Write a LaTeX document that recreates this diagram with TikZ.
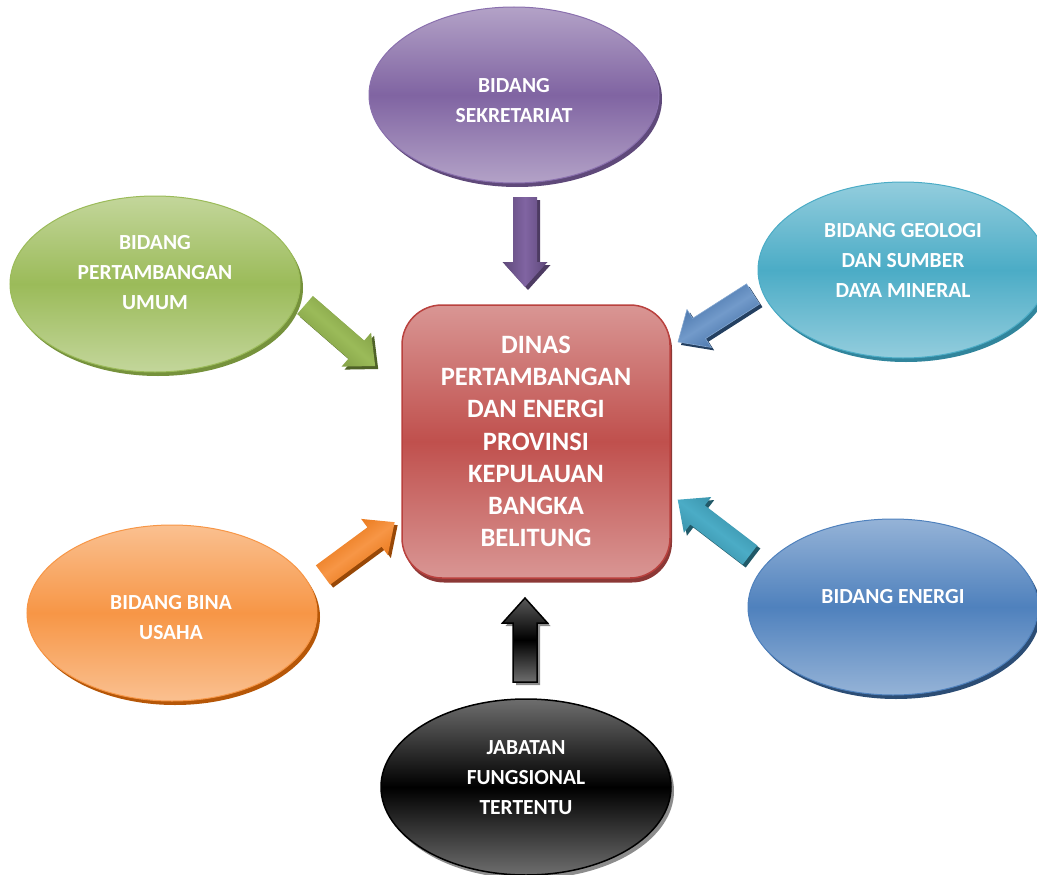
\documentclass[tikz,border=0pt]{standalone}
\usepackage{fontspec}
\setmainfont{Carlito}[BoldFont={Carlito Bold}]
\usetikzlibrary{shapes.geometric,calc}
\definecolor{purL}{HTML}{B3A2C7}\definecolor{purM}{HTML}{8064A2}\definecolor{purD}{HTML}{5F497A}\definecolor{purB}{HTML}{8A70AE}
\definecolor{grnL}{HTML}{C3D69B}\definecolor{grnM}{HTML}{9BBB59}\definecolor{grnD}{HTML}{76923C}
\definecolor{cyaL}{HTML}{93CDDD}\definecolor{cyaM}{HTML}{4BACC6}\definecolor{cyaD}{HTML}{31859C}
\definecolor{ornL}{HTML}{FAC090}\definecolor{ornM}{HTML}{F79646}\definecolor{ornD}{HTML}{B65708}\definecolor{ornA}{HTML}{E36C09}
\definecolor{bluL}{HTML}{95B3D7}\definecolor{bluM}{HTML}{4F81BD}\definecolor{bluD}{HTML}{2C4D75}\definecolor{bluA}{HTML}{3A679F}
\definecolor{redL}{HTML}{D99694}\definecolor{redM}{HTML}{C0504D}\definecolor{redD}{HTML}{8C3836}\definecolor{redB}{HTML}{B9413E}
\definecolor{blkL}{HTML}{6E6E6E}\definecolor{blkS}{HTML}{8C8C8C}
\definecolor{purS}{HTML}{4D3B62}\definecolor{grnS}{HTML}{4F6228}\definecolor{bluS}{HTML}{244061}\definecolor{cyaS}{HTML}{215968}\definecolor{ornS}{HTML}{984807}
\newcommand\barrow[5]{%
  \begin{scope}[shift={($(#1)+(3,3)$)}, rotate=#2]
    \fill[#4] (0,-12) -- ({#3-25},-12) -- ({#3-25},-22.5) -- (#3,0) -- ({#3-25},22.5) -- ({#3-25},12) -- (0,12) -- cycle;
  \end{scope}
  \begin{scope}[shift={(#1)}, rotate=#2]
    \path[#5] (0,-12) -- ({#3-25},-12) -- ({#3-25},-22.5) -- (#3,0) -- ({#3-25},22.5) -- ({#3-25},12) -- (0,12) -- cycle;
  \end{scope}}
\begin{document}
\begin{tikzpicture}[x=1pt,y=-1pt,
  oval/.style={ellipse, inner sep=0pt, minimum width=290pt, minimum height=176pt, line width=1pt},
  ovalsh/.style={ellipse, inner sep=0pt, minimum width=290pt, minimum height=176pt},
  lbl/.style={text=white, font=\bfseries\fontsize{21.5}{30}\selectfont, align=center, inner sep=0pt}]
\path[use as bounding box] (0,0) rectangle (1037,875);
\clip (0,0) rectangle (1037,875);
% ellipses
\node[ovalsh, fill=purD] (sekS) at (517,99) {};
\node[oval, draw=purB, top color=purL, bottom color=purL, middle color=purM] (sek) at (514,95) {};
\node[lbl] (sekT) at (514,101) {BIDANG\\SEKRETARIAT};
\node[ovalsh, fill=grnD] (puS) at (158,288) {};
\node[oval, draw=grnM, top color=grnL, bottom color=grnL, middle color=grnM] (pu) at (155,284) {};
\node[lbl] (puT) at (155,273) {BIDANG\\PERTAMBANGAN\\UMUM};
\node[ovalsh, fill=cyaD] (geoS) at (906,274) {};
\node[oval, draw=cyaM, top color=cyaL, bottom color=cyaL, middle color=cyaM] (geo) at (903,270) {};
\node[lbl] (geoT) at (903,260) {BIDANG GEOLOGI\\DAN SUMBER\\DAYA MINERAL};
\node[ovalsh, fill=ornD] (binaS) at (175,617) {};
\node[oval, draw=ornM, top color=ornL, bottom color=ornL, middle color=ornM] (bina) at (172,613) {};
\node[lbl] (binaT) at (171,618) {BIDANG BINA\\USAHA};
\node[ovalsh, fill=bluD] (enS) at (896,611) {};
\node[oval, draw=bluM, top color=bluL, bottom color=bluL, middle color=bluM] (en) at (893,607) {};
\node[lbl] (enT) at (893,597) {BIDANG ENERGI};
\node[ovalsh, fill=blkS] (jabS) at (529,791) {};
\node[oval, draw=black, line width=1.5pt, top color=blkL, bottom color=blkL, middle color=black] (jab) at (526,787) {};
\node[lbl] (jabT) at (526,778) {JABATAN\\FUNGSIONAL\\TERTENTU};
% arrows
\coordinate (a1) at (525,197);
\coordinate (a2) at (305,305);
\coordinate (a3) at (753,294);
\coordinate (a4) at (750,555);
\coordinate (a5) at (323,575);
\coordinate (a6) at (525,682);
\barrow{a1}{-90}{90}{purS}{top color=purD, bottom color=purD, middle color=purM, shading angle=-90}
\barrow{a2}{-41}{93}{grnS}{top color=grnD, bottom color=grnD, middle color=grnM, shading angle=-41}
\barrow{a3}{212.6}{89}{bluS}{top color=bluA, bottom color=bluA, middle color=bluM!80!white, shading angle=212.6, draw=bluM!70!white, line width=0.6pt}
\barrow{a4}{142.6}{91}{cyaS}{top color=cyaD, bottom color=cyaD, middle color=cyaM, shading angle=142.6}
\barrow{a5}{36.4}{89}{ornS}{top color=ornA, bottom color=ornA, middle color=ornM, shading angle=36.4}
\barrow{a6}{90}{84}{blkS}{top color=blkL!80!black, bottom color=blkL, middle color=black, draw=black, line width=1.5pt}
% centre box
\node[rectangle, rounded corners=40pt, minimum width=268pt, minimum height=273pt, fill=redD] (dinasS) at (538,446) {};
\node[rectangle, rounded corners=40pt, minimum width=268pt, minimum height=273pt, draw=redB, line width=1.5pt,
  top color=redL, bottom color=redL, middle color=redM, text=white, align=center,
  font=\bfseries\fontsize{26.5}{32.3}\selectfont] (dinas) at (536,441.5)
  {DINAS\\PERTAMBANGAN\\DAN ENERGI\\PROVINSI\\KEPULAUAN\\BANGKA\\BELITUNG};
\end{tikzpicture}
\end{document}
